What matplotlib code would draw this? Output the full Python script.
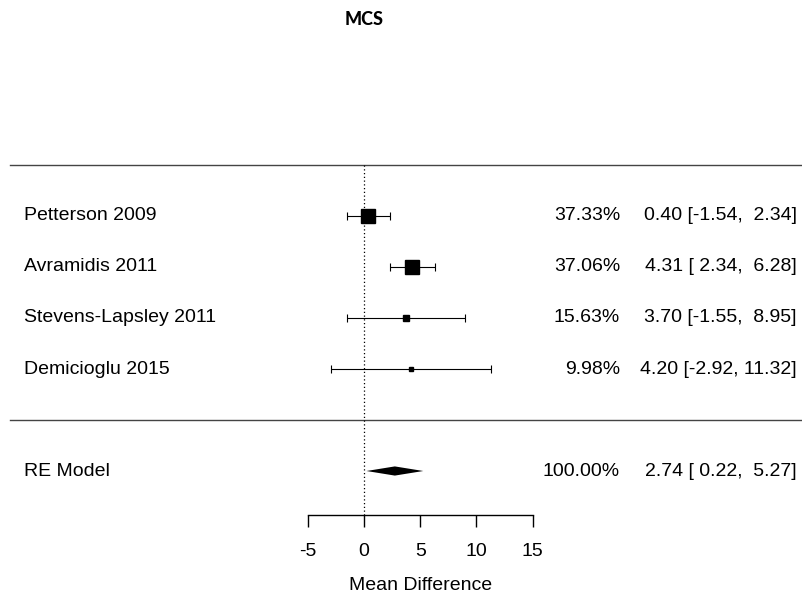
import matplotlib
matplotlib.use("Agg")
import matplotlib.pyplot as plt

# study data (from the picture)
studies = ["Petterson 2009", "Avramidis 2011", "Stevens-Lapsley 2011", "Demicioglu 2015"]
estimates = [0.40, 4.31, 3.70, 4.20]
ci_lower = [-1.54, 2.34, -1.55, -2.92]
ci_upper = [2.34, 6.28, 8.95, 11.32]
weights = [37.33, 37.06, 15.63, 9.98]

# pooled random effects model
re_label = "RE Model"
re_estimate = 2.74
re_lower = 0.22
re_upper = 5.27
re_weight = 100.00

xticks = [-5, 0, 5, 10, 15]
title = "MCS"
xlabel = "Mean Difference"

plt.rcParams["font.family"] = ["Liberation Sans", "DejaVu Sans"]

fig = plt.figure(figsize=(8.03, 5.99), dpi=100)
ax = fig.add_axes([0, 0, 1, 1])

# pixel layout of the original: 11.25 px per unit, zero at x=364, rows 51 px apart
ax.set_xlim(-364 / 11.25, (803 - 364) / 11.25)
k = len(studies)
row_px = 51
ax.set_ylim(k - (599 - 216) / row_px, k + 216 / row_px)

rows = list(range(k, 0, -1))
re_row = -1
axis_y = k - (515 - 216) / row_px
top_y = k + 1

fig_x = ax.get_yaxis_transform()  # x in axes fraction, y in data

# separator lines
ax.axhline(top_y, xmin=10 / 803, xmax=1, color="#444444", lw=1)
ax.axhline(0, xmin=10 / 803, xmax=1, color="#444444", lw=1)

# reference line at zero
ax.vlines(0, axis_y, top_y, colors="black", linestyles=(0, (1, 2)), lw=0.9)

# study CIs and squares
max_w = max(weights)
for y, est, lo, hi, w in zip(rows, estimates, ci_lower, ci_upper, weights):
    ax.errorbar(est, y, xerr=[[est - lo], [hi - est]], fmt="none",
                ecolor="black", elinewidth=0.8, capsize=2.9, capthick=0.8)
    ax.plot(est, y, marker="s", color="black", markersize=10.3 * (w / max_w) ** 0.85,
            linestyle="none")

# pooled diamond
h = 0.09
ax.fill([re_lower, re_estimate, re_upper, re_estimate],
        [re_row, re_row + h, re_row, re_row - h], color="black", lw=0)

# text columns
fs = 14
all_labels = studies + [re_label]
all_rows = rows + [re_row]
all_w = weights + [re_weight]
all_est = estimates + [re_estimate]
all_lo = ci_lower + [re_lower]
all_hi = ci_upper + [re_upper]
for lab, y, w, est, lo, hi in zip(all_labels, all_rows, all_w, all_est, all_lo, all_hi):
    ax.text(24 / 803, y, lab, transform=fig_x, ha="left", va="center", fontsize=fs)
    ax.text(620 / 803, y, f"{w:.2f}%", transform=fig_x, ha="right", va="center", fontsize=fs)
    ax.text(797 / 803, y, f"{est:.2f} [{lo:5.2f}, {hi:5.2f}]", transform=fig_x,
            ha="right", va="center", fontsize=fs)

# bottom axis drawn with the axes spine
for side in ["top", "left", "right"]:
    ax.spines[side].set_visible(False)
ax.spines["bottom"].set_position(("data", axis_y))
ax.spines["bottom"].set_bounds(min(xticks), max(xticks))
ax.spines["bottom"].set_linewidth(1)
ax.set_xticks(xticks)
ax.set_xticklabels([str(t) for t in xticks])
ax.tick_params(axis="x", direction="out", length=8.6, width=1, pad=11.5, labelsize=fs)
ax.set_yticks([])
ax.patch.set_visible(False)

ax.text(sum(xticks) / len(xticks), k - (585 - 216) / row_px, xlabel,
        ha="center", va="center", fontsize=fs)
ax.text(364.5 / 803, k + (216 - 20) / row_px, title, transform=fig_x,
        ha="center", va="center", fontsize=13, fontweight="black", family="Lato")

fig.savefig("out.png", dpi=100)
